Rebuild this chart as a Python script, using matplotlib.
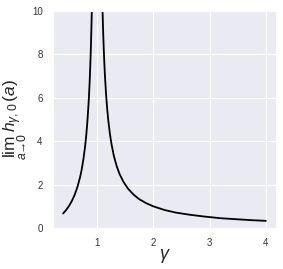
import matplotlib
matplotlib.use("Agg")
import matplotlib.pyplot as plt
import seaborn as sns
import numpy as np

# Values (left branch: gamma < 1, right branch: gamma > 1)
gamma_left = [0.40, 0.45, 0.50, 0.55, 0.60, 0.65, 0.70, 0.73, 0.76, 0.79, 0.81,
              0.83, 0.85, 0.86, 0.87, 0.88, 0.89, 0.90, 0.91, 0.92]
h_left = [0.67, 0.82, 1.00, 1.22, 1.50, 1.86, 2.33, 2.70, 3.17, 3.76, 4.26,
          4.88, 5.67, 6.14, 6.69, 7.33, 8.09, 9.00, 10.1, 11.5]
gamma_right = [1.08, 1.09, 1.10, 1.11, 1.12, 1.13, 1.14, 1.16, 1.18, 1.20, 1.23,
               1.26, 1.30, 1.35, 1.40, 1.47, 1.55, 1.65, 1.75, 1.87, 2.00,
               2.20, 2.40, 2.65, 2.90, 3.20, 3.50, 3.75, 4.00]
h_right = [12.5, 11.1, 10.0, 9.09, 8.33, 7.69, 7.14, 6.25, 5.56, 5.00, 4.35,
           3.85, 3.33, 2.86, 2.50, 2.13, 1.82, 1.54, 1.33, 1.15, 1.00,
           0.83, 0.71, 0.61, 0.53, 0.45, 0.40, 0.36, 0.33]
x_ticks = [1, 2, 3, 4]
y_ticks = [0, 2, 4, 6, 8, 10]

sns.set_style("darkgrid")
plt.rcParams['font.family'] = ['Liberation Sans', 'DejaVu Sans']
plt.rcParams['mathtext.fontset'] = 'custom'
plt.rcParams['mathtext.rm'] = 'Liberation Sans'
plt.rcParams['mathtext.it'] = 'Liberation Sans:italic'
plt.rcParams['mathtext.bf'] = 'Liberation Sans:bold'

fig = plt.figure(figsize=(2.83, 2.69), dpi=100)
ax = fig.add_axes([53/283, 1 - 228/269, (276-53)/283, (228-11)/269])
ax.plot(gamma_left, h_left, color='black', lw=1.3)
ax.plot(gamma_right, h_right, color='black', lw=1.3)
ax.set_xlim(0.22, 4.18)
ax.set_ylim(0, 10)
ax.set_xticks(x_ticks)
ax.set_yticks(y_ticks)
ax.tick_params(labelsize=7, colors='#333333', pad=4)
ax.set_xlabel(r'$\gamma$', fontsize=13, labelpad=-1)
ax.set_ylabel(r'$\lim_{a\to 0}\, h_{\gamma,0}(a)$', fontsize=12.5, labelpad=2)
fig.savefig("out.png", dpi=100)
